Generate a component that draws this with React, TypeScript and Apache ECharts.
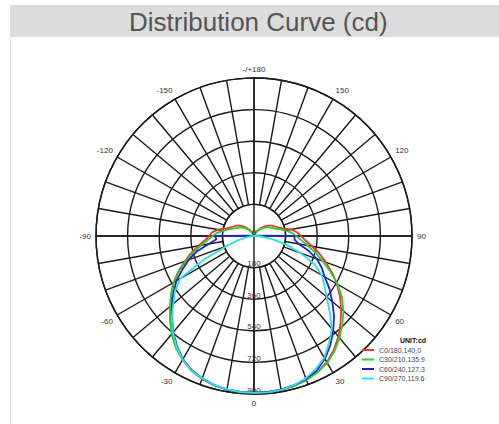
import React, { useEffect, useRef } from "react";
import * as echarts from "echarts";

// Angle positions (degrees), -180 .. 180
const angles = [
  -180, -175, -170, -165, -160, -155, -150, -145, -140, -135, -130, -125, -120, -115, -110, -105, -100, -95,
  -90, -85, -80, -75, -70, -65, -60, -55, -50, -45, -40, -35, -30, -25, -20, -15, -10, -5,
  0,
  5, 10, 15, 20, 25, 30, 35, 40, 45, 50, 55, 60, 65, 70, 75, 80, 85, 90,
  95, 100, 105, 110, 115, 120, 125, 130, 135, 140, 145, 150, 155, 160, 165, 170, 175, 180,
];

// Intensity (cd) for each plane, in the order of `angles`
const c0_180 = [
  0, 0, 2, 5, 10, 18, 28, 40, 55, 72, 88, 104, 118, 128, 142, 165, 210, 240,
  255, 282, 320, 370, 420, 475, 530, 575, 620, 672, 725, 772, 812, 840, 862, 878, 888, 893,
  895,
  895, 892, 885, 872, 855, 830, 792, 748, 698, 648, 598, 545, 490, 435, 385, 335, 295, 268,
  245, 215, 168, 145, 130, 118, 104, 90, 72, 55, 40, 28, 18, 10, 5, 2, 0, 0,
];
const c30_210 = [
  0, 0, 1, 3, 7, 13, 21, 31, 43, 56, 70, 84, 96, 108, 124, 148, 178, 210,
  235, 265, 305, 358, 410, 470, 528, 578, 625, 678, 730, 777, 815, 843, 864, 879, 888, 892,
  893,
  893, 890, 884, 873, 857, 835, 800, 758, 712, 665, 612, 550, 480, 415, 360, 310, 270, 240,
  215, 180, 150, 125, 110, 98, 85, 72, 58, 44, 32, 22, 14, 8, 4, 2, 0, 0,
];
const c60_240 = [
  0, 0, 0, 0, 0, 0, 0, 0, 0, 0, 0, 0, 0, 0, 0, 0, 0, 20,
  222, 215, 262, 335, 395, 450, 510, 560, 610, 660, 715, 765, 810, 845, 866, 880, 888, 892,
  893,
  892, 888, 880, 866, 846, 808, 758, 702, 645, 582, 525, 465, 425, 380, 320, 258, 232, 230,
  20, 0, 0, 0, 0, 0, 0, 0, 0, 0, 0, 0, 0, 0, 0, 0, 0, 0,
];
const c90_270 = [
  0, 0, 0, 0, 0, 0, 0, 0, 0, 0, 0, 0, 0, 0, 0, 0, 0, 0,
  3, 15, 45, 95, 165, 310, 485, 550, 600, 662, 718, 770, 812, 845, 864, 878, 887, 892,
  894,
  894, 890, 880, 862, 835, 800, 745, 690, 610, 540, 490, 445, 380, 280, 190, 110, 50, 10,
  0, 0, 0, 0, 0, 0, 0, 0, 0, 0, 0, 0, 0, 0, 0, 0, 0, 0,
];

const seriesNames = ["C0/180,140.0", "C30/210,135.9", "C60/240,127.3", "C90/270,119.6"];
const seriesValues = [c0_180, c30_210, c60_240, c90_270];
const seriesColors = ["#e53935", "#2ecc2e", "#2323c8", "#2ee0e6"];

const radiusMax = 900;
const radiusStep = 180;
const angleStep = 10;

const titleText = "Distribution Curve (cd)";
const unitText = "UNIT:cd";

export default function App() {
  const ref = useRef<HTMLDivElement>(null);

  useEffect(() => {
    if (!ref.current) return;
    const chart = echarts.init(ref.current, undefined, { renderer: "svg" });
    const gridColor = "#1a1a1a";
    const center = [254, 236];
    const outerR = 158;
    const innerR = (outerR * radiusStep) / radiusMax;
    const font = "Liberation Sans, Arial, sans-serif";

    const option: any = {
      animation: false,
      backgroundColor: "#ffffff",
      title: [
        {
          text: titleText,
          left: 124,
          top: 4,
          textStyle: { fontSize: 26, fontWeight: "normal", color: "#555555", fontFamily: font },
        },
        {
          text: unitText,
          left: 395,
          top: 332,
          textStyle: { fontSize: 7, fontWeight: "bold", color: "#111111", fontFamily: font },
        },
      ],
      graphic: [
        {
          type: "rect",
          z: -10,
          shape: { x: 10, y: 5, width: 489, height: 32 },
          style: { fill: "#dcdcdc" },
        },
        {
          type: "line",
          z: -10,
          shape: { x1: 10.5, y1: 37, x2: 10.5, y2: 424 },
          style: { stroke: "#e8e8e8", lineWidth: 1 },
        },
      ],
      legend: {
        orient: "vertical",
        left: 362,
        top: 346,
        padding: 0,
        itemWidth: 12,
        itemHeight: 2,
        itemGap: 1.5,
        icon: "rect",
        data: seriesNames,
        textStyle: { fontSize: 7, color: "#444444", lineHeight: 8, fontFamily: font },
      },
      polar: [
        { center, radius: [innerR, outerR] },
        { center, radius: [0, outerR] },
      ],
      angleAxis: [
        {
          polarIndex: 0,
          type: "value",
          min: -180,
          max: 180,
          interval: angleStep,
          startAngle: 90,
          clockwise: false,
          axisLine: { show: true, lineStyle: { color: gridColor, width: 1.4 } },
          axisTick: { show: false },
          splitLine: { show: true, lineStyle: { color: gridColor, width: 1.4 } },
          axisLabel: {
            show: true,
            margin: 5,
            fontSize: 8,
            color: "#333333",
            fontFamily: font,
            formatter: (v: number) => {
              const a = Math.round(v);
              if (a === -180) return "-/+180";
              if (a === 180) return "";
              return a % 30 === 0 ? String(a) : "";
            },
          },
        },
        {
          polarIndex: 1,
          type: "value",
          min: 0,
          max: 360,
          interval: 90,
          startAngle: -90,
          clockwise: false,
          axisLine: { show: false },
          axisTick: { show: false },
          axisLabel: { show: false },
          splitLine: { show: true, lineStyle: { color: gridColor, width: 1.4 } },
        },
      ],
      radiusAxis: [
        {
          polarIndex: 0,
          type: "value",
          min: radiusStep,
          max: radiusMax,
          interval: radiusStep,
          axisLine: { show: false },
          axisTick: { show: false },
          axisLabel: { show: false },
          splitLine: { show: true, lineStyle: { color: gridColor, width: 1.4 } },
        },
        {
          polarIndex: 1,
          type: "value",
          min: 0,
          max: radiusMax,
          interval: radiusStep,
          axisLine: { show: false },
          axisTick: { show: false },
          splitLine: { show: false },
          axisLabel: {
            show: true,
            margin: 0,
            align: "center",
            verticalAlign: "bottom",
            fontSize: 8,
            color: "#333333",
            fontFamily: font,
          },
          z: 5,
        },
      ],
      series: seriesNames.map((name, i) => ({
        name,
        type: "line",
        coordinateSystem: "polar",
        polarIndex: 1,
        showSymbol: false,
        smooth: false,
        clip: false,
        color: seriesColors[i],
        lineStyle: { color: seriesColors[i], width: 1.8 },
        data: seriesValues[i].map((v, k) => [v, angles[k]]),
        z: 3 + i,
      })),
    };
    chart.setOption(option);
    return () => chart.dispose();
  }, []);

  return (
    <div
      ref={ref}
      style={{ position: "absolute", left: 0, top: 0, width: 499, height: 424 }}
    />
  );
}
